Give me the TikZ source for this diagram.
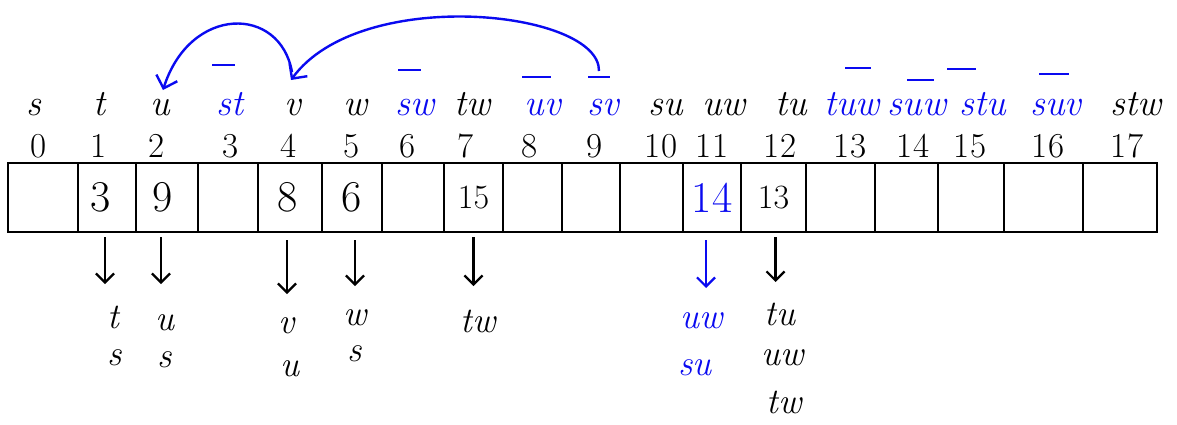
\documentclass[tikz,border=0pt]{standalone}
\usetikzlibrary{arrows.meta,calc}
\definecolor{pen}{RGB}{10,10,240}
\begin{document}
\begin{tikzpicture}[x=1pt,y=-1pt,
  cell/.style={draw,line width=2.4pt,inner sep=0pt,outer sep=0pt,minimum height=69pt},
  lab/.style={anchor=base,inner sep=0pt,font=\fontsize{37}{44}\selectfont\itshape},
  idx/.style={anchor=base,inner sep=0pt,font=\fontsize{35}{42}\selectfont},
  val/.style={inner sep=0pt,font=\fontsize{44}{52}\selectfont},
  sval/.style={inner sep=0pt,font=\fontsize{34}{40}\selectfont},
  lst/.style={anchor=base,inner sep=0pt,font=\fontsize{36}{42}\selectfont\itshape},
  darrow/.style={line width=2.2pt,-{Straight Barb[length=9pt,width=18pt]}},
  barrow/.style={pen,line width=2.4pt,-{Straight Barb[length=11pt,width=22pt]}},
  bar/.style={pen,line width=2.2pt},
  blue/.style={text=pen},
]
\useasboundingbox (0,0) rectangle (1177,424);

% array cells
\foreach \i/\a/\b in {0/8/78,1/78/136,2/136/198,3/198/258,4/258/322,5/322/382,6/382/444,7/444/503,8/503/562,9/562/620,10/620/683,11/683/741,12/741/806,13/806/875,14/875/938,15/938/1004,16/1004/1083,17/1083/1157}
  \node[cell,minimum width={(\b-\a)*1pt}] (c\i) at ({(\a+\b)/2},197.5) {};

% cell values
\node[val] (v1) at ($(c1)+(-6,0)$) {3};
\node[val] (v2) at ($(c2)+(-4,0)$) {9};
\node[val] (v4) at ($(c4)+(-2,0)$) {8};
\node[val] (v5) at (c5) {6};
\node[sval] (v7) at (c7) {15};
\node[val,blue] (v11) at (c11) {14};
\node[sval] (v12) at (c12) {13};

% indices
\foreach \i/\x in {0/39,1/99,2/157,3/231,4/289,5/352,6/408,7/466,8/530,9/595,10/661,11/712,12/780,13/850,14/913,15/970,16/1048,17/1127}
  \node[idx] (i\i) at (\x,157) {\i};

% labels
\node[lab] (n0) at (34,115) {s};
\node[lab] (n1) at (100,115) {t};
\node[lab] (n2) at (160,115) {u};
\node[lab,blue] (n3) at (230,115) {st};
\node[lab] (n4) at (293,115) {v};
\node[lab] (n5) at (356,115) {w};
\node[lab,blue] (n6) at (415,115) {sw};
\node[lab] (n7) at (473,115) {tw};
\node[lab,blue] (n8) at (543,115) {uv};
\node[lab,blue] (n9) at (603,115) {sv};
\node[lab] (n10) at (666,115) {su};
\node[lab] (n11) at (724,115) {uw};
\node[lab] (n12) at (791,115) {tu};
\node[lab,blue] (n13) at (852,115) {tuw};
\node[lab,blue] (n14) at (917,115) {suw};
\node[lab,blue] (n15) at (983,115) {stu};
\node[lab,blue] (n16) at (1056,115) {suv};
\node[lab] (n17) at (1136,115) {stw};

% bars over complemented labels
\draw[bar] ($(n3.base)+(-18,-50)$) -- ++(23,0);
\draw[bar] ($(n6.base)+(-17,-45)$) -- ++(23,0);
\draw[bar] ($(n8.base)+(-21,-38)$) -- ++(29,0);
\draw[bar] ($(n9.base)+(-15,-38)$) -- ++(22,0);
\draw[bar] ($(n13.base)+(-7,-47)$) -- ++(26,0);
\draw[bar] ($(n14.base)+(-10,-35)$) -- ++(27,0);
\draw[bar] ($(n15.base)+(-36,-46)$) -- ++(29,0);
\draw[bar] ($(n16.base)+(-17,-41)$) -- ++(30,0);

% blue curved arrows
\draw[barrow] ($(n9.base)+(-4,-44)$) .. controls (600,10) and (360,-15) .. ($(n4.base)+(-2,-35)$);
\draw[barrow] ($(n4.base)+(-1,-43)$) .. controls (280,5) and (190,5) .. ($(n2.base)+(3,-25)$);

% lists below
\node[lst] (l1a) at (113,328) {t};
\node[lst] (l1b) at (115,365) {s};
\node[lst] (l2a) at (165,330) {u};
\node[lst] (l2b) at (165,367) {s};
\node[lst] (l4a) at (287,333) {v};
\node[lst] (l4b) at (290,376) {u};
\node[lst] (l5a) at (355,325) {w};
\node[lst] (l5b) at (355,361) {s};
\node[lst] (l7a) at (478,332) {tw};
\node[lst,blue] (l11a) at (702,328) {uw};
\node[lst,blue] (l11b) at (695,375) {su};
\node[lst] (l12a) at (780,325) {tu};
\node[lst] (l12b) at (783,365) {uw};
\node[lst] (l12c) at (784,413) {tw};

% down arrows
\draw[darrow] ($(c1.south)+(-2,5)$) -- ($(c1.south)+(-2,52)$);
\draw[darrow] ($(c2.south)+(-6,5)$) -- ($(c2.south)+(-6,52)$);
\draw[darrow] ($(c4.south)+(-3,8)$) -- ($(c4.south)+(-3,62)$);
\draw[darrow] ($(c5.south)+(3,8)$) -- ($(c5.south)+(3,54)$);
\draw[darrow] ($(c7.south)+(0,5)$) -- ($(c7.south)+(0,54)$);
\draw[darrow,pen] ($(c11.south)+(-6,8)$) -- ($(c11.south)+(-6,56)$);
\draw[darrow] ($(c12.south)+(2,5)$) -- ($(c12.south)+(2,50)$);
\end{tikzpicture}
\end{document}
